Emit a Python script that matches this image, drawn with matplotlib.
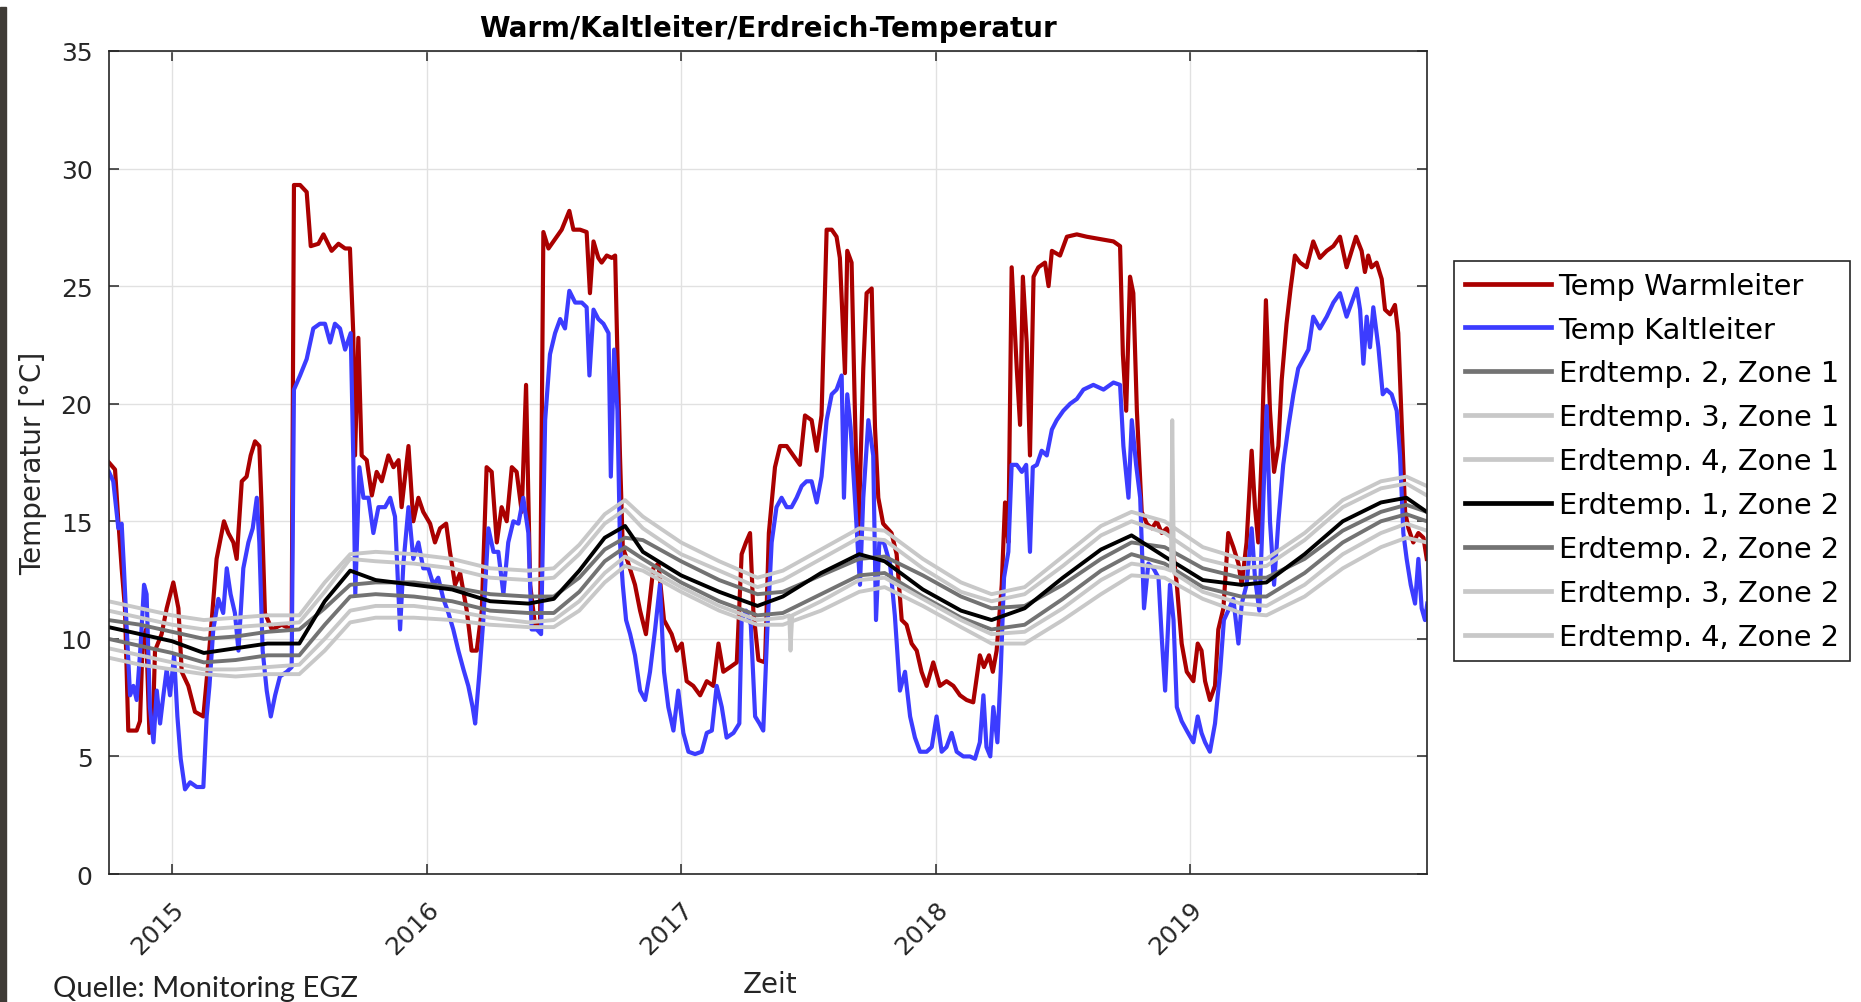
import numpy as np
import matplotlib.pyplot as plt
from matplotlib.patches import Rectangle
from matplotlib.transforms import ScaledTranslation

plt.rcParams['font.family'] = 'DejaVu Sans'

# time in decimal years, temperature in degC
warm = [
    (2014.752, 17.5), (2014.776, 17.2), (2014.789, 15.0), (2014.802, 13.0), (2014.815, 11.3),
    (2014.828, 6.1), (2014.861, 6.1), (2014.874, 6.5), (2014.885, 10.0), (2014.898, 10.4),
    (2014.911, 6.0), (2014.924, 6.1), (2014.933, 9.5), (2014.959, 10.2), (2014.979, 11.3),
    (2015.005, 12.4), (2015.025, 11.3), (2015.038, 8.6), (2015.064, 8.0), (2015.090, 6.9),
    (2015.123, 6.7), (2015.139, 8.6), (2015.156, 10.8), (2015.175, 13.4), (2015.204, 15.0),
    (2015.221, 14.5), (2015.241, 14.1), (2015.254, 13.4), (2015.274, 16.7), (2015.293, 16.9),
    (2015.309, 17.8), (2015.326, 18.4), (2015.343, 18.2), (2015.352, 15.6), (2015.365, 11.1),
    (2015.392, 10.4), (2015.431, 10.6), (2015.470, 10.4), (2015.479, 29.3), (2015.503, 29.3),
    (2015.529, 29.0), (2015.545, 26.7), (2015.575, 26.8), (2015.595, 27.2), (2015.627, 26.5),
    (2015.654, 26.8), (2015.680, 26.6), (2015.699, 26.6), (2015.712, 23.0), (2015.719, 17.8),
    (2015.732, 22.8), (2015.745, 17.8), (2015.765, 17.6), (2015.785, 16.1), (2015.804, 17.1),
    (2015.824, 16.7), (2015.850, 17.8), (2015.870, 17.3), (2015.890, 17.6), (2015.902, 15.6),
    (2015.929, 18.2), (2015.948, 15.0), (2015.968, 16.0), (2015.987, 15.4), (2016.014, 14.9),
    (2016.033, 14.1), (2016.053, 14.7), (2016.077, 14.9), (2016.092, 13.7), (2016.112, 12.3),
    (2016.132, 12.8), (2016.158, 11.2), (2016.177, 9.5), (2016.197, 9.5), (2016.217, 11.2),
    (2016.236, 17.3), (2016.256, 17.1), (2016.276, 14.1), (2016.295, 15.6), (2016.315, 15.0),
    (2016.335, 17.3), (2016.354, 17.1), (2016.374, 15.4), (2016.391, 20.8), (2016.407, 12.3),
    (2016.426, 10.6), (2016.446, 10.6), (2016.459, 27.3), (2016.479, 26.6), (2016.505, 27.0),
    (2016.531, 27.4), (2016.561, 28.2), (2016.577, 27.4), (2016.603, 27.4), (2016.629, 27.3),
    (2016.642, 24.7), (2016.656, 26.9), (2016.675, 26.2), (2016.688, 26.0), (2016.708, 26.3),
    (2016.728, 26.2), (2016.741, 26.3), (2016.750, 22.1), (2016.760, 17.8), (2016.771, 13.9),
    (2016.793, 13.2), (2016.819, 12.3), (2016.839, 11.2), (2016.862, 10.2), (2016.891, 13.0),
    (2016.911, 13.2), (2016.933, 10.8), (2016.963, 10.2), (2016.983, 9.5), (2017.003, 9.8),
    (2017.022, 8.2), (2017.048, 8.0), (2017.075, 7.6), (2017.101, 8.2), (2017.127, 8.0),
    (2017.147, 9.8), (2017.166, 8.6), (2017.193, 8.8), (2017.219, 9.0), (2017.238, 13.6),
    (2017.255, 14.1), (2017.271, 14.5), (2017.284, 11.2), (2017.304, 9.1), (2017.330, 9.0),
    (2017.345, 14.5), (2017.369, 17.3), (2017.389, 18.2), (2017.415, 18.2), (2017.441, 17.8),
    (2017.467, 17.4), (2017.487, 19.5), (2017.513, 19.3), (2017.533, 18.0), (2017.552, 19.5),
    (2017.572, 27.4), (2017.592, 27.4), (2017.611, 27.1), (2017.624, 26.2), (2017.644, 21.3),
    (2017.653, 26.5), (2017.670, 26.0), (2017.683, 19.7), (2017.696, 14.1), (2017.716, 21.5),
    (2017.729, 24.7), (2017.749, 24.9), (2017.762, 19.0), (2017.775, 16.0), (2017.794, 14.9),
    (2017.827, 14.5), (2017.847, 13.6), (2017.867, 10.8), (2017.886, 10.6), (2017.906, 9.8),
    (2017.926, 9.5), (2017.945, 8.6), (2017.965, 8.0), (2017.991, 9.0), (2018.017, 8.0),
    (2018.043, 8.2), (2018.070, 8.0), (2018.096, 7.6), (2018.122, 7.4), (2018.148, 7.3),
    (2018.174, 9.3), (2018.190, 8.8), (2018.210, 9.3), (2018.225, 8.6), (2018.240, 9.5),
    (2018.260, 12.3), (2018.273, 15.8), (2018.286, 14.1), (2018.299, 25.8), (2018.319, 21.5),
    (2018.332, 19.1), (2018.343, 25.4), (2018.358, 22.6), (2018.371, 17.8), (2018.385, 25.4),
    (2018.404, 25.8), (2018.430, 26.0), (2018.444, 25.0), (2018.457, 26.5), (2018.489, 26.3),
    (2018.516, 27.1), (2018.555, 27.2), (2018.594, 27.1), (2018.646, 27.0), (2018.699, 26.9),
    (2018.725, 26.7), (2018.736, 22.1), (2018.749, 19.7), (2018.764, 25.4), (2018.777, 24.7),
    (2018.791, 19.7), (2018.810, 15.4), (2018.830, 14.9), (2018.850, 14.7), (2018.869, 15.0),
    (2018.889, 14.5), (2018.908, 14.7), (2018.928, 14.3), (2018.948, 12.3), (2018.967, 9.8),
    (2018.987, 8.6), (2019.013, 8.2), (2019.030, 9.8), (2019.045, 9.5), (2019.059, 8.2),
    (2019.078, 7.4), (2019.098, 8.0), (2019.111, 10.4), (2019.131, 11.3), (2019.150, 14.5),
    (2019.170, 13.9), (2019.190, 13.2), (2019.203, 12.3), (2019.222, 14.1), (2019.242, 18.0),
    (2019.255, 15.6), (2019.268, 14.1), (2019.281, 17.8), (2019.298, 24.4), (2019.314, 19.7),
    (2019.330, 17.1), (2019.347, 18.2), (2019.360, 21.0), (2019.379, 23.4), (2019.395, 24.9),
    (2019.412, 26.3), (2019.432, 26.0), (2019.458, 25.8), (2019.484, 26.9), (2019.510, 26.2),
    (2019.537, 26.5), (2019.563, 26.7), (2019.589, 27.1), (2019.615, 25.8), (2019.635, 26.5),
    (2019.652, 27.1), (2019.674, 26.5), (2019.687, 25.6), (2019.700, 26.3), (2019.713, 25.8),
    (2019.733, 26.0), (2019.753, 25.3), (2019.766, 24.0), (2019.786, 23.8), (2019.805, 24.2),
    (2019.818, 23.0), (2019.831, 19.3), (2019.845, 15.4), (2019.858, 14.7), (2019.877, 14.1),
    (2019.897, 14.5), (2019.917, 14.3), (2019.930, 13.4),
]

kalt = [
    (2014.752, 17.1), (2014.769, 16.7), (2014.789, 14.7), (2014.802, 14.9), (2014.811, 13.0),
    (2014.822, 10.4), (2014.835, 7.6), (2014.848, 8.0), (2014.861, 7.4), (2014.877, 9.8),
    (2014.890, 12.3), (2014.900, 11.9), (2014.913, 7.1), (2014.927, 5.6), (2014.940, 7.8),
    (2014.953, 6.4), (2014.966, 7.6), (2014.979, 8.7), (2014.992, 7.6), (2015.008, 9.3),
    (2015.021, 6.7), (2015.034, 4.9), (2015.051, 3.6), (2015.071, 3.9), (2015.097, 3.7),
    (2015.123, 3.7), (2015.136, 6.7), (2015.147, 8.0), (2015.162, 10.4), (2015.182, 11.7),
    (2015.201, 11.1), (2015.215, 13.0), (2015.230, 11.9), (2015.247, 11.1), (2015.261, 9.5),
    (2015.280, 13.0), (2015.300, 14.1), (2015.317, 14.7), (2015.333, 16.0), (2015.343, 14.1),
    (2015.356, 9.5), (2015.372, 7.8), (2015.388, 6.7), (2015.405, 7.6), (2015.424, 8.4),
    (2015.451, 8.6), (2015.470, 8.8), (2015.479, 20.6), (2015.503, 21.2), (2015.529, 21.9),
    (2015.555, 23.2), (2015.581, 23.4), (2015.601, 23.4), (2015.621, 22.6), (2015.640, 23.4),
    (2015.660, 23.2), (2015.680, 22.3), (2015.702, 23.0), (2015.712, 17.8), (2015.720, 11.9),
    (2015.736, 17.3), (2015.752, 16.0), (2015.772, 16.0), (2015.791, 14.5), (2015.811, 15.6),
    (2015.837, 15.6), (2015.857, 16.0), (2015.876, 15.2), (2015.896, 10.4), (2015.909, 13.2),
    (2015.929, 15.6), (2015.948, 13.4), (2015.968, 14.1), (2015.987, 13.0), (2016.007, 13.0),
    (2016.027, 12.3), (2016.046, 12.6), (2016.066, 11.7), (2016.086, 11.1), (2016.105, 10.4),
    (2016.125, 9.5), (2016.145, 8.7), (2016.164, 8.0), (2016.181, 7.1), (2016.191, 6.4),
    (2016.208, 8.6), (2016.223, 10.8), (2016.243, 14.7), (2016.263, 13.7), (2016.282, 13.7),
    (2016.302, 11.9), (2016.321, 14.1), (2016.341, 15.0), (2016.361, 14.9), (2016.380, 16.0),
    (2016.400, 14.5), (2016.413, 10.4), (2016.433, 10.4), (2016.450, 10.2), (2016.466, 19.3),
    (2016.485, 22.1), (2016.505, 23.0), (2016.525, 23.6), (2016.544, 23.2), (2016.561, 24.8),
    (2016.584, 24.3), (2016.610, 24.3), (2016.629, 24.1), (2016.640, 21.2), (2016.656, 24.0),
    (2016.675, 23.6), (2016.695, 23.4), (2016.715, 23.0), (2016.724, 16.9), (2016.737, 22.3),
    (2016.750, 19.7), (2016.760, 14.1), (2016.771, 12.3), (2016.784, 10.8), (2016.800, 10.2),
    (2016.819, 9.3), (2016.839, 7.8), (2016.859, 7.4), (2016.878, 8.6), (2016.898, 10.4),
    (2016.917, 12.3), (2016.933, 8.6), (2016.950, 7.1), (2016.970, 6.1), (2016.989, 7.8),
    (2017.009, 6.0), (2017.029, 5.2), (2017.055, 5.1), (2017.081, 5.2), (2017.101, 6.0),
    (2017.121, 6.1), (2017.140, 8.0), (2017.160, 7.1), (2017.179, 5.8), (2017.206, 6.0),
    (2017.229, 6.4), (2017.238, 10.8), (2017.255, 11.2), (2017.274, 10.6), (2017.291, 6.7),
    (2017.308, 6.4), (2017.323, 6.1), (2017.339, 10.4), (2017.356, 14.1), (2017.375, 15.6),
    (2017.395, 16.0), (2017.415, 15.6), (2017.434, 15.6), (2017.454, 16.0), (2017.474, 16.5),
    (2017.493, 16.7), (2017.513, 16.7), (2017.533, 15.8), (2017.552, 16.9), (2017.572, 19.3),
    (2017.592, 20.4), (2017.611, 20.6), (2017.631, 21.2), (2017.640, 16.0), (2017.653, 20.4),
    (2017.666, 19.0), (2017.683, 16.0), (2017.703, 12.3), (2017.716, 16.0), (2017.736, 19.3),
    (2017.755, 17.8), (2017.766, 10.8), (2017.779, 14.1), (2017.797, 14.1), (2017.821, 13.2),
    (2017.840, 11.0), (2017.860, 7.8), (2017.880, 8.6), (2017.900, 6.7), (2017.919, 5.8),
    (2017.939, 5.2), (2017.965, 5.2), (2017.985, 5.4), (2018.004, 6.7), (2018.024, 5.2),
    (2018.043, 5.4), (2018.063, 6.0), (2018.083, 5.2), (2018.109, 5.0), (2018.135, 5.0),
    (2018.155, 4.9), (2018.174, 5.6), (2018.188, 7.6), (2018.200, 5.4), (2018.215, 5.0),
    (2018.227, 7.1), (2018.243, 5.6), (2018.256, 8.6), (2018.269, 12.6), (2018.286, 13.7),
    (2018.299, 17.4), (2018.319, 17.4), (2018.339, 17.1), (2018.356, 17.4), (2018.371, 13.7),
    (2018.382, 17.3), (2018.398, 17.4), (2018.417, 18.0), (2018.437, 17.8), (2018.457, 18.9),
    (2018.476, 19.3), (2018.502, 19.7), (2018.529, 20.0), (2018.555, 20.2), (2018.581, 20.6),
    (2018.620, 20.8), (2018.660, 20.6), (2018.699, 20.9), (2018.725, 20.8), (2018.738, 18.2),
    (2018.758, 16.0), (2018.771, 19.3), (2018.788, 17.4), (2018.804, 16.0), (2018.819, 11.3),
    (2018.836, 13.2), (2018.856, 13.0), (2018.876, 12.6), (2018.889, 10.0), (2018.902, 7.8),
    (2018.921, 12.3), (2018.935, 10.8), (2018.948, 7.1), (2018.967, 6.5), (2018.987, 6.1),
    (2019.013, 5.6), (2019.030, 6.7), (2019.045, 6.0), (2019.059, 5.6), (2019.078, 5.2),
    (2019.098, 6.4), (2019.118, 8.6), (2019.133, 10.8), (2019.150, 11.2), (2019.170, 11.7),
    (2019.190, 9.8), (2019.203, 11.5), (2019.222, 12.3), (2019.242, 14.7), (2019.255, 12.6),
    (2019.272, 11.2), (2019.288, 16.0), (2019.301, 19.9), (2019.314, 15.0), (2019.330, 12.3),
    (2019.347, 15.0), (2019.366, 17.4), (2019.386, 19.0), (2019.406, 20.4), (2019.425, 21.5),
    (2019.445, 21.9), (2019.465, 22.3), (2019.484, 23.7), (2019.510, 23.2), (2019.537, 23.7),
    (2019.563, 24.3), (2019.589, 24.7), (2019.615, 23.7), (2019.635, 24.3), (2019.655, 24.9),
    (2019.668, 24.0), (2019.681, 21.7), (2019.694, 23.7), (2019.707, 22.4), (2019.720, 24.1),
    (2019.740, 22.4), (2019.757, 20.4), (2019.772, 20.6), (2019.792, 20.4), (2019.812, 19.7),
    (2019.825, 17.8), (2019.838, 14.5), (2019.851, 13.4), (2019.867, 12.3), (2019.884, 11.5),
    (2019.897, 13.4), (2019.910, 11.3), (2019.923, 10.8), (2019.932, 11.5),
]

# ground temperatures on a common time grid
erd_t = [2014.75, 2014.875, 2015.0, 2015.125, 2015.25, 2015.375, 2015.5, 2015.6, 2015.7,
         2015.8, 2015.95, 2016.1, 2016.25, 2016.4, 2016.5, 2016.6, 2016.7, 2016.78, 2016.85,
         2017.0, 2017.15, 2017.3, 2017.4, 2017.55, 2017.7, 2017.8, 2017.95, 2018.1, 2018.22,
         2018.35, 2018.5, 2018.65, 2018.77, 2018.9, 2019.05, 2019.2, 2019.3, 2019.45, 2019.6,
         2019.75, 2019.85, 2019.93]
erd_2_z1 = [10.8, 10.6, 10.3, 10.0, 10.1, 10.3, 10.4, 11.3, 12.3, 12.4, 12.4, 12.2, 11.9, 11.8,
            11.8, 12.6, 13.8, 14.3, 14.2, 13.3, 12.5, 11.9, 12.0, 12.7, 13.4, 13.5, 12.7, 11.8,
            11.3, 11.4, 12.3, 13.4, 14.1, 13.9, 13.0, 12.6, 12.6, 13.4, 14.6, 15.4, 15.7, 15.4]
erd_3_z1 = [11.2, 10.9, 10.6, 10.4, 10.5, 10.6, 10.7, 12.0, 13.4, 13.3, 13.2, 13.0, 12.6, 12.5,
            12.6, 13.6, 14.9, 15.5, 14.7, 13.6, 12.9, 12.2, 12.5, 13.4, 14.3, 14.2, 13.0, 12.0,
            11.6, 11.9, 13.1, 14.4, 15.0, 14.5, 13.4, 13.0, 13.1, 14.2, 15.6, 16.4, 16.6, 16.1]
erd_4_z1 = [11.6, 11.3, 11.0, 10.8, 10.9, 11.0, 11.0, 12.4, 13.6, 13.7, 13.6, 13.4, 13.0, 12.9,
            13.0, 14.0, 15.3, 15.9, 15.2, 14.1, 13.3, 12.6, 12.9, 13.8, 14.7, 14.6, 13.4, 12.4,
            11.9, 12.2, 13.5, 14.8, 15.4, 15.0, 13.9, 13.4, 13.4, 14.5, 15.9, 16.7, 16.9, 16.5]
erd_1_z2 = [10.5, 10.2, 9.9, 9.4, 9.6, 9.8, 9.8, 11.6, 12.9, 12.5, 12.3, 12.1, 11.6, 11.5,
            11.7, 12.9, 14.3, 14.8, 13.7, 12.7, 12.0, 11.4, 11.8, 12.8, 13.6, 13.3, 12.1, 11.2,
            10.8, 11.3, 12.6, 13.8, 14.4, 13.5, 12.5, 12.3, 12.4, 13.6, 15.0, 15.8, 16.0, 15.4]
erd_2_z2 = [10.0, 9.7, 9.4, 9.0, 9.1, 9.3, 9.3, 10.6, 11.8, 11.9, 11.8, 11.6, 11.2, 11.1,
            11.1, 12.0, 13.3, 13.9, 13.4, 12.4, 11.6, 11.0, 11.1, 11.9, 12.7, 12.8, 11.8, 10.9,
            10.4, 10.6, 11.7, 12.9, 13.6, 13.2, 12.2, 11.8, 11.8, 12.8, 14.1, 15.0, 15.3, 15.0]
erd_3_z2 = [9.6, 9.3, 9.0, 8.7, 8.7, 8.8, 8.9, 10.0, 11.2, 11.4, 11.4, 11.2, 10.9, 10.7,
            10.8, 11.6, 12.8, 13.5, 13.1, 12.2, 11.4, 10.8, 10.9, 11.6, 12.5, 12.6, 11.7, 10.8,
            10.2, 10.3, 11.3, 12.5, 13.2, 13.0, 12.0, 11.5, 11.4, 12.3, 13.6, 14.5, 14.9, 14.6]
erd_4_z2 = [9.2, 8.9, 8.7, 8.5, 8.4, 8.5, 8.5, 9.5, 10.7, 10.9, 10.9, 10.8, 10.6, 10.5,
            10.5, 11.2, 12.4, 13.1, 12.9, 12.0, 11.2, 10.6, 10.6, 11.2, 12.0, 12.2, 11.4, 10.5,
            9.8, 9.8, 10.8, 11.9, 12.7, 12.6, 11.7, 11.1, 11.0, 11.8, 13.0, 13.9, 14.3, 14.1]
# short sensor glitches on Erdtemp. 3, Zone 2
erd_3_z2_glitch = [(2017.425, 11.0), (2017.430, 9.5), (2017.437, 11.0),
                   (2018.925, 12.9), (2018.930, 19.3), (2018.937, 12.8)]

years = [2015, 2016, 2017, 2018, 2019]
year_labels = ['2015', '2016', '2017', '2018', '2019']

light = '#c8c8c8'
dark = '#737373'
series = [
    ('Erdtemp. 2, Zone 1', erd_t, erd_2_z1, dark),
    ('Erdtemp. 3, Zone 1', erd_t, erd_3_z1, light),
    ('Erdtemp. 4, Zone 1', erd_t, erd_4_z1, light),
    ('Erdtemp. 1, Zone 2', erd_t, erd_1_z2, 'black'),
    ('Erdtemp. 2, Zone 2', erd_t, erd_2_z2, dark),
]
pts = sorted(list(zip(erd_t, erd_3_z2)) + erd_3_z2_glitch)
series.append(('Erdtemp. 3, Zone 2', [p[0] for p in pts], [p[1] for p in pts], light))
series.append(('Erdtemp. 4, Zone 2', erd_t, erd_4_z2, light))

fig = plt.figure(figsize=(18.61, 10.03), dpi=100)
ax = fig.add_axes([0.0586, 0.1276, 0.7082, 0.8206])

wt, wv = zip(*warm)
kt, kv = zip(*kalt)
ax.plot(wt, wv, color='#aa0000', lw=3.0, label='Temp Warmleiter')
ax.plot(kt, kv, color='#3c3cff', lw=3.0, label='Temp Kaltleiter')
for name, t, v, c in series:
    ax.plot(t, v, color=c, lw=2.8, label=name)

ax.set_xlim(2014.7525, 2019.931)
ax.set_ylim(0, 35)
ax.set_yticks(np.arange(0, 36, 5))
ax.set_xticks(years)
ax.set_xticklabels(year_labels, rotation=45, ha='right', va='top', rotation_mode='anchor')
for lab in ax.get_xticklabels():
    lab.set_transform(lab.get_transform() + ScaledTranslation(0.12, 0, fig.dpi_scale_trans))

ax.grid(True, color='#e1e1e1', lw=1.0)
ax.set_axisbelow(True)
ax.tick_params(direction='in', length=7, width=1.1, colors='#262626', labelsize=18,
               top=True, right=True)
ax.tick_params(axis='y', pad=12)
ax.tick_params(axis='x', pad=16)
for sp in ax.spines.values():
    sp.set_color('#262626')
    sp.set_linewidth(1.2)

ax.set_title('Warm/Kaltleiter/Erdreich-Temperatur', fontsize=20, fontweight='bold', pad=11)
ax.set_ylabel('Temperatur [°C]', fontsize=20, color='#262626')
ax.set_xlabel('Zeit', fontsize=20, color='#262626')
ax.yaxis.set_label_coords(-0.047, 0.5)
ax.xaxis.set_label_coords(0.5015, -0.117)

leg = fig.legend(loc='upper left', bbox_to_anchor=(1454 / 1861, 1 - 262 / 1003),
                 borderaxespad=0, fontsize=20.8, handlelength=3.0, handletextpad=0.25,
                 labelspacing=0.55, borderpad=0.37, fancybox=False, framealpha=1)
leg.get_frame().set_edgecolor('#262626')
leg.get_frame().set_linewidth(1.2)
for h in leg.get_lines():
    h.set_linewidth(3.4)

fig.text(53 / 1861, 1 / 1003, 'Quelle: Monitoring EGZ', fontsize=21,
         family='Lato', va='bottom', ha='left', color='#222222')
fig.patches.append(Rectangle((0, 0), 6 / 1861, 1 - 8 / 1003, transform=fig.transFigure,
                             color='#3f3b36', zorder=-1))

fig.savefig('out.png', dpi=100)
